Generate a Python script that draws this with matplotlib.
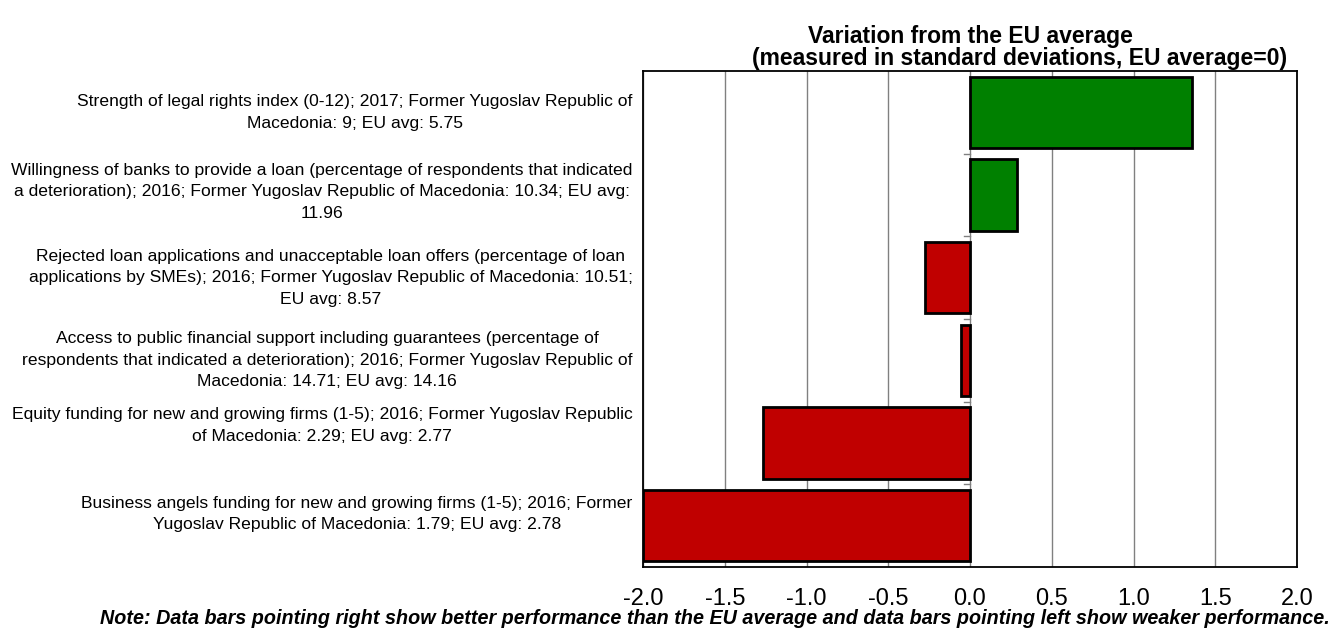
import numpy as np
import matplotlib
matplotlib.use('Agg')
import matplotlib.pyplot as plt

plt.rcParams['font.family'] = ['Liberation Sans', 'DejaVu Sans']

# indicators, top to bottom
labels = [
    'Strength of legal rights index (0-12); 2017; Former Yugoslav Republic of\nMacedonia: 9; EU avg: 5.75',
    'Willingness of banks to provide a loan (percentage of respondents that indicated\na deterioration); 2016; Former Yugoslav Republic of Macedonia: 10.34; EU avg:\n11.96',
    'Rejected loan applications and unacceptable loan offers (percentage of loan\napplications by SMEs); 2016; Former Yugoslav Republic of Macedonia: 10.51;\nEU avg: 8.57',
    'Access to public financial support including guarantees (percentage of\nrespondents that indicated a deterioration); 2016; Former Yugoslav Republic of\nMacedonia: 14.71; EU avg: 14.16',
    'Equity funding for new and growing firms (1-5); 2016; Former Yugoslav Republic\nof Macedonia: 2.29; EU avg: 2.77',
    'Business angels funding for new and growing firms (1-5); 2016; Former\nYugoslav Republic of Macedonia: 1.79; EU avg: 2.78',
]
values = [1.356, 0.286, -0.275, -0.055, -1.264, -2.0]
xticks = [-2.0, -1.5, -1.0, -0.5, 0.0, 0.5, 1.0, 1.5, 2.0]

# label nudges (category units), as in the source layout
label_dy = [0.0, -0.04, 0.0, 0.0, -0.21, -0.14]

fig = plt.figure(figsize=(13.32, 6.3), dpi=100)
ax = fig.add_axes([643/1332, 1 - 567/630, (1297-643)/1332, (567-71)/630])

pos = np.arange(len(values))
colors = ['#008000' if v > 0 else '#C00000' for v in values]
ax.barh(pos, values, height=0.86, color=colors, edgecolor='black', linewidth=2, zorder=3)

ax.set_xlim(-2, 2)
ax.set_ylim(len(values) - 0.5, -0.5)
ax.set_xticks(xticks)
ax.set_xticklabels(['%.1f' % t for t in xticks], fontsize=17)
ax.tick_params(axis='x', length=0, pad=15)
ax.set_yticks([])

for p, lab, dy in zip(pos, labels, label_dy):
    ax.text(-0.016, p + dy, lab, transform=ax.get_yaxis_transform(),
            ha='right', va='center', multialignment='center',
            fontsize=12.6, linespacing=1.55)

ax.grid(axis='x', color='#808080', linewidth=1, zorder=0)
ax.set_axisbelow(True)
for s in ax.spines.values():
    s.set_linewidth(1.3)
    s.set_color('black')

# small category separators at the zero line
for b in pos[:-1] + 0.5:
    ax.plot([-0.037, 0], [b, b], color='#808080', linewidth=1, zorder=2)

# two-line title, lines centred separately as in the source
fig.text(970/1332, 1 - 36/630, 'Variation from the EU average',
         ha='center', va='center', fontsize=16.5, fontweight='bold')
fig.text(1020/1332, 1 - 59/630, '(measured in standard deviations, EU average=0)',
         ha='center', va='center', fontsize=16.5, fontweight='bold')

fig.text(715/1332, 1 - 619/630, 'Note: Data bars pointing right show better performance than the EU average '
         'and data bars pointing left show weaker performance.',
         ha='center', va='center', fontsize=14.2, fontweight='bold', style='italic')

fig.savefig('out.png', dpi=100)
